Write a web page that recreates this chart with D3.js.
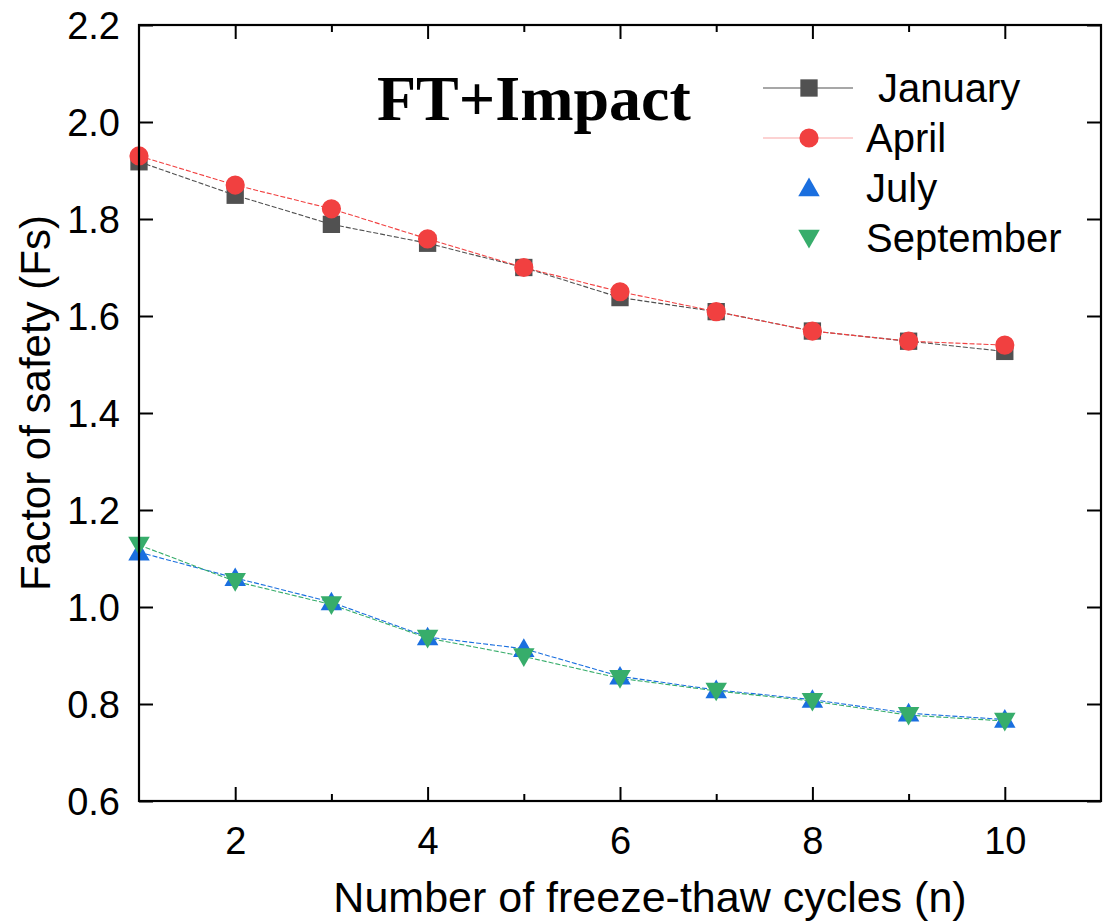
<!DOCTYPE html>
<html>
<head>
<meta charset="utf-8">
<script src="https://cdn.jsdelivr.net/npm/d3@7"></script>
<style>
  html, body { margin: 0; padding: 0; background: #fff; }
  svg { display: block; }
</style>
</head>
<body>
<svg id="chart" width="1115" height="923"></svg>
<script>
const cycles = [1, 2, 3, 4, 5, 6, 7, 8, 9, 10];
const january = [1.918, 1.849, 1.789, 1.750, 1.700, 1.638, 1.609, 1.569, 1.548, 1.527];
const april = [1.930, 1.870, 1.821, 1.759, 1.700, 1.650, 1.609, 1.569, 1.548, 1.540];
const july = [1.113, 1.060, 1.010, 0.938, 0.914, 0.857, 0.829, 0.809, 0.781, 0.768];
const september = [1.128, 1.053, 1.005, 0.936, 0.898, 0.853, 0.827, 0.806, 0.777, 0.765];
const seriesNames = ["January", "April", "July", "September"];
const seriesColors = ["#515151", "#F14040", "#1A6FDF", "#37AD6B"];
const seriesSymbols = ["square", "circle", "triUp", "triDown"];
const xMajorTicks = [2, 4, 6, 8, 10];
const xMinorTicks = [3, 5, 7, 9];
const yTicks = [0.6, 0.8, 1.0, 1.2, 1.4, 1.6, 1.8, 2.0, 2.2];
const titleText = "FT+Impact";
const xLabel = "Number of freeze-thaw cycles (n)";
const yLabel = "Factor of safety (Fs)";

(function () {
const SANS = "'Liberation Sans', Arial, sans-serif";
const SERIF = "'Liberation Serif', 'Times New Roman', serif";
const seriesValues = [january, april, july, september];
const series = seriesNames.map((name, i) => ({
  name, color: seriesColors[i], symbol: seriesSymbols[i],
  points: cycles.map((c, j) => ({ x: c, y: seriesValues[i][j] }))
}));

const svg = d3.select("#chart");
const pL = 139, pR = 1101, pT = 25, pB = 801;
const x = d3.scaleLinear().domain([1, 11]).range([pL, pR]);
const y = d3.scaleLinear().domain([0.6, 2.2]).range([pB, pT]);

const symGen = {
  square: d3.symbol().type(d3.symbolSquare).size(300),
  circle: d3.symbol().type(d3.symbolCircle).size(290),
  triUp: d3.symbol().type(d3.symbolTriangle).size(200),
  triDown: d3.symbol().type(d3.symbolTriangle).size(200)
};
function drawSymbol(g, kind, cx, cy, color) {
  const rot = kind === "triDown" ? 180 : 0;
  const dy = kind === "triUp" ? 2 : (kind === "triDown" ? -2 : 0);
  g.append("path")
    .attr("d", symGen[kind]())
    .attr("transform", `translate(${cx},${cy + dy}) rotate(${rot})`)
    .attr("fill", color);
}

// lines
const line = d3.line().x(d => x(d.x)).y(d => y(d.y));
const gLines = svg.append("g");
series.forEach(s => {
  gLines.append("path")
    .datum(s.points)
    .attr("d", line)
    .attr("fill", "none")
    .attr("stroke", s.color)
    .attr("stroke-width", 1.1)
    .attr("stroke-dasharray", "5,2");
});

// markers
const gMarks = svg.append("g");
series.forEach(s => {
  s.points.forEach(p => drawSymbol(gMarks, s.symbol, x(p.x), y(p.y), s.color));
});

// axes (ticks inward)
const axisG = svg.append("g");
const xBottom = d3.axisBottom(x).tickValues(xMajorTicks).tickSize(-14).tickPadding(26).tickFormat(d3.format("d"));
axisG.append("g").attr("transform", `translate(0,${pB})`).call(xBottom);
const xBottomMinor = d3.axisBottom(x).tickValues(xMinorTicks).tickSize(-7).tickFormat("");
axisG.append("g").attr("transform", `translate(0,${pB})`).call(xBottomMinor);
const xTop = d3.axisTop(x).tickValues(xMajorTicks).tickSize(-14).tickFormat("");
axisG.append("g").attr("transform", `translate(0,${pT})`).call(xTop);
const xTopMinor = d3.axisTop(x).tickValues(xMinorTicks).tickSize(-7).tickFormat("");
axisG.append("g").attr("transform", `translate(0,${pT})`).call(xTopMinor);

const yLeft = d3.axisLeft(y).tickValues(yTicks).tickSize(-14).tickPadding(19).tickFormat(d3.format(".1f"));
const gyl = axisG.append("g").attr("transform", `translate(${pL},0)`).call(yLeft);
const yRight = d3.axisRight(y).tickValues(yTicks).tickSize(-14).tickFormat("");
axisG.append("g").attr("transform", `translate(${pR},0)`).call(yRight);

axisG.selectAll(".domain").remove();
axisG.selectAll(".tick line").attr("stroke", "#000").attr("stroke-width", 2);
axisG.selectAll(".tick text").style("font-size", "38px").style("font-family", SANS).attr("fill", "#000");
gyl.selectAll(".tick text").attr("dy", "0.35em");

// frame
svg.append("rect")
  .attr("x", pL).attr("y", pT)
  .attr("width", pR - pL).attr("height", pB - pT)
  .attr("fill", "none").attr("stroke", "#000").attr("stroke-width", 2.2);

// axis titles
svg.append("text")
  .attr("x", 650).attr("y", 912)
  .attr("text-anchor", "middle")
  .style("font-family", SANS).style("font-size", "43px")
  .text(xLabel);
svg.append("text")
  .attr("transform", `translate(50,403) rotate(-90)`)
  .attr("text-anchor", "middle")
  .style("font-family", SANS).style("font-size", "42px")
  .text(yLabel);

// chart title
svg.append("text")
  .attr("x", 377).attr("y", 120)
  .style("font-family", SERIF)
  .style("font-weight", "bold")
  .style("font-size", "64px")
  .text(titleText);

// legend
const legend = svg.append("g");
const legY0 = 88, legStep = 50;
series.forEach((s, i) => {
  const ly = legY0 + i * legStep;
  if (i < 2) {
    legend.append("line")
      .attr("x1", 763).attr("x2", 853).attr("y1", ly).attr("y2", ly)
      .attr("stroke", s.color).attr("stroke-width", i === 0 ? 1.2 : 0.8)
      .attr("stroke-opacity", i === 0 ? 1 : 0.6);
  }
  drawSymbol(legend, s.symbol, 809, ly, s.color);
  legend.append("text")
    .attr("x", i === 0 ? 878 : 866).attr("y", ly)
    .attr("dy", "0.35em")
    .style("font-family", SANS).style("font-size", "40px")
    .text(s.name);
});
})();
</script>
</body>
</html>
